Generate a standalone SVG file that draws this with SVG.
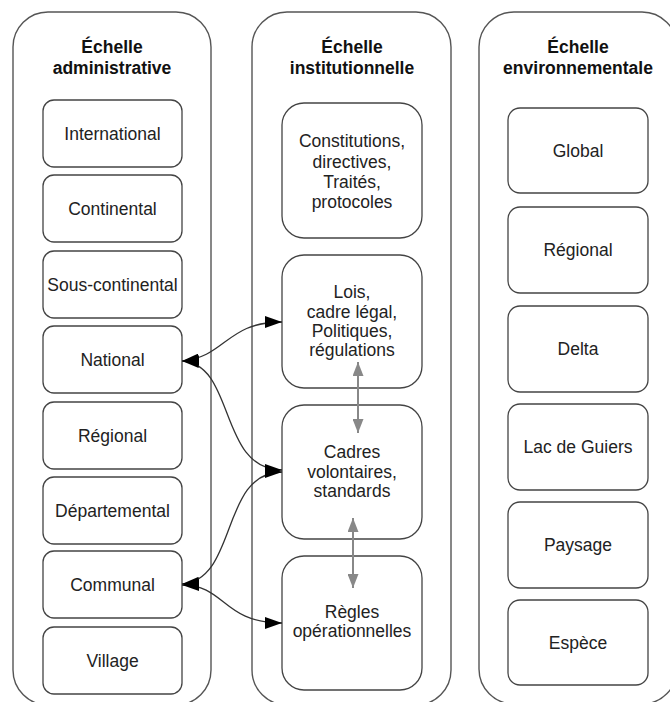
<svg xmlns="http://www.w3.org/2000/svg" width="670" height="702" viewBox="0 0 670 702">
<defs>
<style>
.cont{fill:#fff;stroke:#555;stroke-width:1.4}
.box{fill:#fff;stroke:#444;stroke-width:1.3}
.t{font-family:"Liberation Sans",Arial,sans-serif;font-size:17.5px;fill:#222;text-anchor:middle}
.h{font-family:"Liberation Sans",Arial,sans-serif;font-size:17.5px;font-weight:bold;fill:#111;text-anchor:middle}
.c{fill:none;stroke:#333;stroke-width:1.3}
.g{fill:none;stroke:#888;stroke-width:2}
</style>
<marker id="ab" viewBox="0 0 17 12" refX="17" refY="6" markerWidth="17" markerHeight="12" markerUnits="userSpaceOnUse" orient="auto-start-reverse"><path d="M0,0 L17,6 L0,12 z" fill="#000"/></marker>
<marker id="ag" viewBox="0 0 14 11" refX="14" refY="5.5" markerWidth="14" markerHeight="11" markerUnits="userSpaceOnUse" orient="auto-start-reverse"><path d="M0,0 L14,5.5 L0,11 z" fill="#888"/></marker>
</defs>
<rect width="670" height="702" fill="#fff"/>
<g id="col-admin">
<rect class="cont" x="13" y="12" width="198" height="693" rx="35"/>
<text class="h" x="112" y="53">Échelle</text>
<text class="h" x="112" y="74">administrative</text>
</g>
<g id="col-inst">
<rect class="cont" x="252" y="12" width="199" height="693" rx="35"/>
<text class="h" x="352" y="53">Échelle</text>
<text class="h" x="352" y="74">institutionnelle</text>
</g>
<g id="col-env">
<rect class="cont" x="479" y="12" width="198" height="692" rx="35"/>
<text class="h" x="578" y="53">Échelle</text>
<text class="h" x="578" y="74">environnementale</text>
</g>
<g id="international"><rect class="box" x="43" y="100" width="139" height="67" rx="11"/><text class="t" x="112.5" y="139.5">International</text></g>
<g id="continental"><rect class="box" x="43" y="175" width="139" height="67" rx="11"/><text class="t" x="112.5" y="214.5">Continental</text></g>
<g id="sous-continental"><rect class="box" x="43" y="251" width="139" height="67" rx="11"/><text class="t" x="112.5" y="290.5">Sous-continental</text></g>
<g id="national"><rect class="box" x="43" y="326" width="139" height="67" rx="11"/><text class="t" x="112.5" y="365.5">National</text></g>
<g id="regional-admin"><rect class="box" x="43" y="402" width="139" height="67" rx="11"/><text class="t" x="112.5" y="441.5">Régional</text></g>
<g id="departemental"><rect class="box" x="43" y="477" width="139" height="67" rx="11"/><text class="t" x="112.5" y="516.5">Départemental</text></g>
<g id="communal"><rect class="box" x="43" y="551" width="139" height="67" rx="11"/><text class="t" x="112.5" y="590.5">Communal</text></g>
<g id="village"><rect class="box" x="43" y="627" width="139" height="67" rx="11"/><text class="t" x="112.5" y="666.5">Village</text></g>
<g id="constitutions"><rect class="box" x="282" y="103" width="140" height="135" rx="22"/>
<text class="t" x="352" y="147">Constitutions,</text><text class="t" x="352" y="168">directives,</text><text class="t" x="352" y="188">Traités,</text><text class="t" x="352" y="208">protocoles</text></g>
<g id="lois"><rect class="box" x="282" y="255" width="140" height="133" rx="22"/>
<text class="t" x="352" y="298">Lois,</text><text class="t" x="352" y="318">cadre légal,</text><text class="t" x="352" y="337">Politiques,</text><text class="t" x="352" y="356">régulations</text></g>
<g id="cadres"><rect class="box" x="282" y="405" width="140" height="134" rx="22"/>
<text class="t" x="352" y="458">Cadres</text><text class="t" x="352" y="478">volontaires,</text><text class="t" x="352" y="497">standards</text></g>
<g id="regles"><rect class="box" x="282" y="556" width="140" height="134" rx="22"/>
<text class="t" x="352" y="618">Règles</text><text class="t" x="352" y="637">opérationnelles</text></g>
<g id="global"><rect class="box" x="508" y="108" width="140" height="85" rx="12"/><text class="t" x="578" y="157">Global</text></g>
<g id="regional-env"><rect class="box" x="508" y="207" width="140" height="86" rx="12"/><text class="t" x="578" y="256">Régional</text></g>
<g id="delta"><rect class="box" x="508" y="306" width="140" height="86" rx="12"/><text class="t" x="578" y="355">Delta</text></g>
<g id="lac"><rect class="box" x="508" y="404" width="140" height="86" rx="12"/><text class="t" x="578" y="453">Lac de Guiers</text></g>
<g id="paysage"><rect class="box" x="508" y="502" width="140" height="86" rx="12"/><text class="t" x="578" y="551">Paysage</text></g>
<g id="espece"><rect class="box" x="508" y="600" width="140" height="85" rx="12"/><text class="t" x="578" y="649">Espèce</text></g>
<g id="connectors">
<path class="c" d="M182,361 C226,357 226,322 282,322" marker-start="url(#ab)" marker-end="url(#ab)"/>
<path class="c" d="M182,361 C236,364 218,470 282,470" marker-start="url(#ab)" marker-end="url(#ab)"/>
<path class="c" d="M182,584 C238,580 220,472 282,472" marker-start="url(#ab)" marker-end="url(#ab)"/>
<path class="c" d="M182,585 C226,585 222,623 282,623" marker-start="url(#ab)" marker-end="url(#ab)"/>
<path class="g" d="M358,362 L358,433" marker-start="url(#ag)" marker-end="url(#ag)"/>
<path class="g" d="M353,518 L353,588" marker-start="url(#ag)" marker-end="url(#ag)"/>
</g>
</svg>
